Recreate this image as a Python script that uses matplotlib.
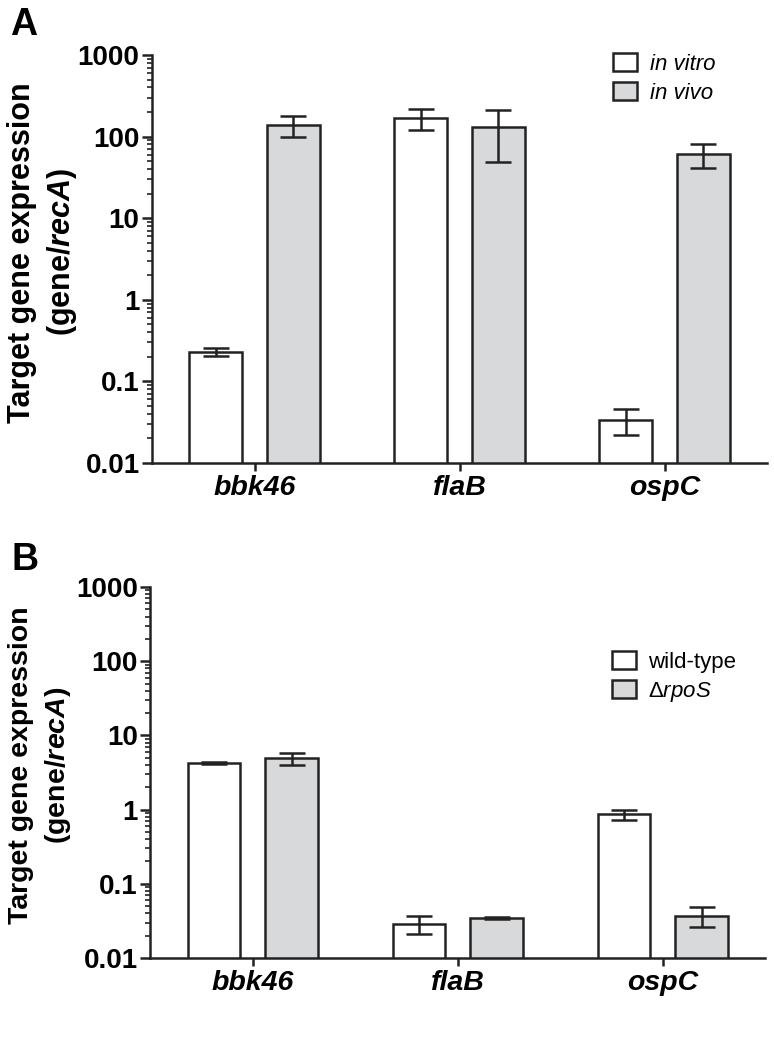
import numpy as np
import matplotlib
matplotlib.use("Agg")
import matplotlib.pyplot as plt
from matplotlib.patches import Patch
from matplotlib.ticker import LogLocator, FixedLocator, FixedFormatter, NullFormatter

plt.rcParams['font.family'] = ['Liberation Sans', 'DejaVu Sans']
plt.rcParams['mathtext.fontset'] = 'custom'
plt.rcParams['mathtext.rm'] = 'Liberation Sans'
plt.rcParams['mathtext.it'] = 'Liberation Sans:italic'
plt.rcParams['mathtext.bf'] = 'Liberation Sans:bold'
plt.rcParams['mathtext.bfit'] = 'Liberation Sans:italic:bold'

# Data
genes = ["bbk46", "flaB", "ospC"]

# Panel A: in vitro vs in vivo
a_vitro = [0.23, 168, 0.034]
a_vitro_err = [0.025, 48, 0.012]
a_vivo = [139, 131, 61]
a_vivo_err = [40, 82, 20]

# Panel B: wild-type vs rpoS mutant
b_wt = [4.2, 0.029, 0.86]
b_wt_err = [0.12, 0.008, 0.13]
b_rpos = [4.9, 0.035, 0.037]
b_rpos_err = [0.85, 0.0012, 0.011]

yticks = [0.01, 0.1, 1, 10, 100, 1000]
ytick_labels = ["0.01", "0.1", "1", "10", "100", "1000"]

grey = "#d8d9db"
edge = "#222222"
lw = 1.8

fig = plt.figure(figsize=(7.74, 10.51), dpi=100)
axA = fig.add_axes([0.1964, 0.5595, 0.7946, 0.3882])
axB = fig.add_axes([0.1940, 0.0885, 0.7946, 0.3530])


def draw_panel(ax, v1, e1, v2, e2, labels, leg_anchor, leg_italic):
    x = np.arange(len(genes))
    off = 0.19
    w = 0.255
    ekw = dict(elinewidth=lw, capthick=lw, ecolor=edge)
    ax.bar(x - off, v1, w, color="white", edgecolor=edge, linewidth=lw,
           yerr=e1, capsize=9.5, error_kw=ekw, zorder=2)
    ax.bar(x + off, v2, w, color=grey, edgecolor=edge, linewidth=lw,
           yerr=e2, capsize=9.5, error_kw=ekw, zorder=2)
    ax.set_yscale("log")
    ax.set_ylim(0.01, 1000)
    ax.set_xlim(-0.5, 2.5)
    ax.yaxis.set_major_locator(FixedLocator(yticks))
    ax.yaxis.set_major_formatter(FixedFormatter(ytick_labels))
    ax.yaxis.set_minor_locator(LogLocator(base=10, subs=np.arange(2, 10)))
    ax.yaxis.set_minor_formatter(NullFormatter())
    ax.set_xticks(x)
    ax.set_xticklabels(genes, fontsize=20.5, fontweight="bold", style="italic")
    for lab in ax.get_yticklabels():
        lab.set_fontsize(20)
        lab.set_fontweight("bold")
    for s in ["top", "right"]:
        ax.spines[s].set_visible(False)
    for s in ["left", "bottom"]:
        ax.spines[s].set_linewidth(lw)
        ax.spines[s].set_color(edge)
    ax.tick_params(axis="y", which="major", length=7, width=lw, color=edge, pad=2)
    ax.tick_params(axis="y", which="minor", length=3.5, width=1.2, color=edge)
    ax.tick_params(axis="x", which="major", length=6, width=lw, color=edge, pad=3)
    handles = [Patch(facecolor="white", edgecolor=edge, linewidth=lw),
               Patch(facecolor=grey, edgecolor=edge, linewidth=lw)]
    prop = {"size": 16}
    if leg_italic:
        prop["style"] = "italic"
    ax.legend(handles, labels, loc="upper left", bbox_to_anchor=leg_anchor,
              frameon=False, prop=prop, handlelength=1.08, handleheight=0.9,
              handletextpad=0.55, labelspacing=0.32, borderpad=0, borderaxespad=0)


draw_panel(axA, a_vitro, a_vitro_err, a_vivo, a_vivo_err,
           ["in vitro", "in vivo"], (0.75, 1.005), True)
draw_panel(axB, b_wt, b_wt_err, b_rpos, b_rpos_err,
           ["wild-type", "Δ$\\mathit{rpoS}$"], (0.751, 0.828), False)

ylab = "Target gene expression\n(gene/$\\mathbfit{recA}$)"
fig.text(0.0556, 0.760, ylab, fontsize=22, fontweight="bold", rotation=90,
         ha="center", va="center", multialignment="center", linespacing=1.3)
fig.text(0.052, 0.2717, ylab, fontsize=20.5, fontweight="bold", rotation=90,
         ha="center", va="center", multialignment="center", linespacing=1.4)

fig.text(0.013, 0.9667, "A", fontsize=27, fontweight="bold", va="baseline", ha="left")
fig.text(0.015, 0.4577, "B", fontsize=27, fontweight="bold", va="baseline", ha="left")

fig.savefig("out.png", dpi=100)
